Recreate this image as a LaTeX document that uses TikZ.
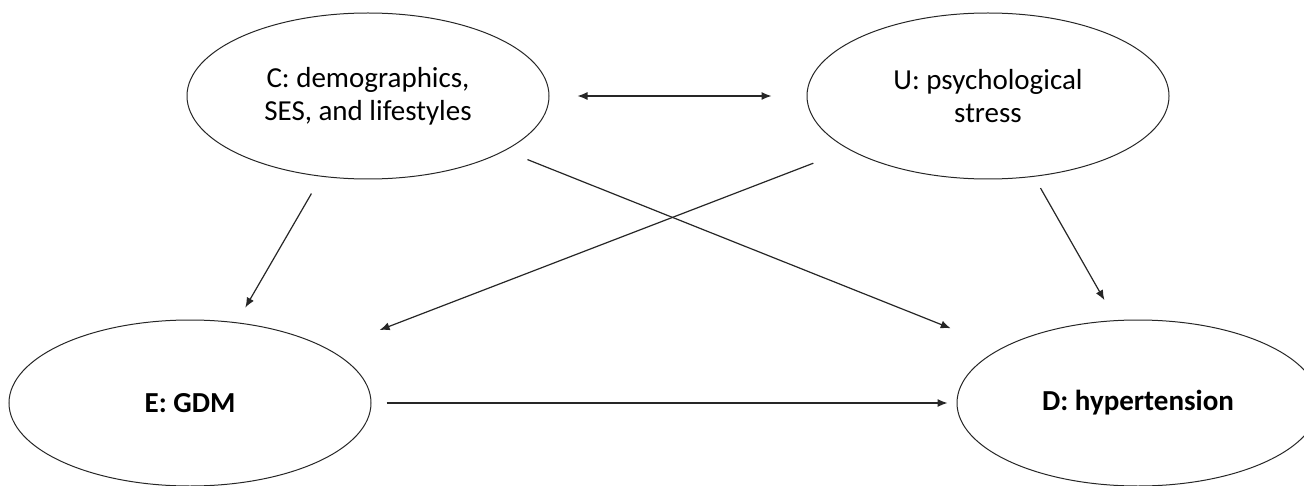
\documentclass[tikz,border=0pt]{standalone}
\usepackage{fontspec}
\setmainfont{Carlito}
\usetikzlibrary{shapes.geometric,arrows.meta,positioning}
\tikzset{
    var/.style ={
        shape=ellipse,
        draw=black!85,
        line width=0.5pt,
        minimum width=181pt,
        minimum height=83pt,
        inner sep=0pt,
        align=center,
        font=\fontsize{14.5}{16.5}\selectfont
    },
    arc/.style ={
        line width=0.6pt,
        draw=black!85
    }
}

\begin{document}
\begin{tikzpicture}[x=0.5pt,y=-0.5pt,>={Latex[length=5pt,width=4pt]}]
    \useasboundingbox (0,0) rectangle (1304,486);
    \node[var] (C) at (368,96) {C: demographics,\\SES, and lifestyles};
    \node[var,right=128.5pt of C] (U) {U: psychological\\stress};
    \node[var,below=70pt of C,xshift=-89pt] (E) {\bfseries E: GDM};
    \node[var,below=70pt of U,xshift=75pt] (D) {\bfseries D: hypertension};
    % arrows stop short of the ellipses
    \draw[arc,<->,shorten <=14pt,shorten >=17.5pt] (C) -- (U);
    \draw[arc,->,shorten <=9.75pt,shorten >=8.5pt] (C) -- (E);
    \draw[arc,->,shorten <=19pt,shorten >=27pt] (U) -- (E);
    \draw[arc,->,shorten <=12pt,shorten >=27pt] (C) -- (D);
    \draw[arc,->,shorten <=6.5pt,shorten >=11.5pt] (U) -- (D.105);
    \draw[arc,->,shorten <=7.5pt,shorten >=4.5pt] (E) -- (D);
\end{tikzpicture}
\end{document}
